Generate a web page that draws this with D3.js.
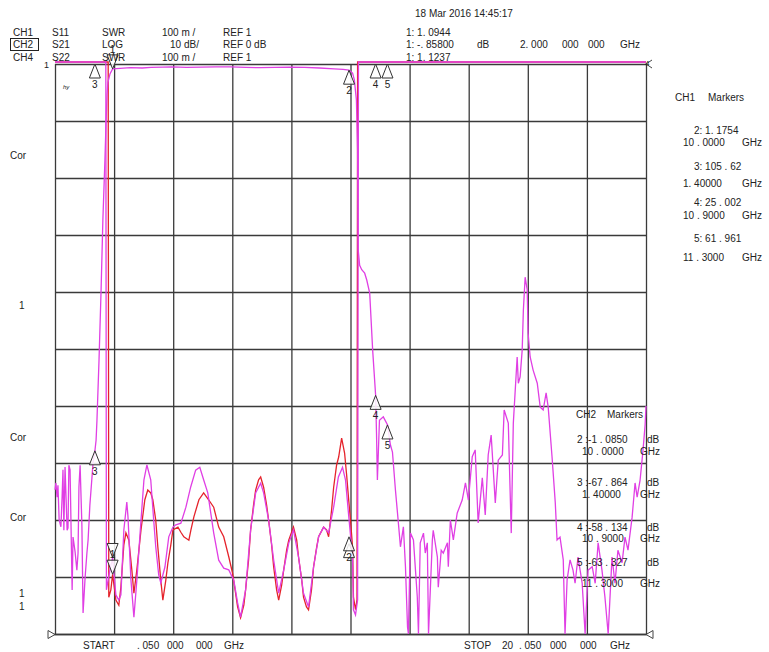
<!DOCTYPE html>
<html><head><meta charset="utf-8">
<script src="https://cdn.jsdelivr.net/npm/d3@7"></script>
<style>
body{margin:0;background:#fff}
text{font-family:"Liberation Sans",Arial,sans-serif;font-size:10px;fill:#222}
</style></head>
<body><svg id="c" width="769" height="652"></svg>
<script>
// ---------- DATA ----------
const freqGrid = [0.05,2.05,4.05,6.05,8.05,10.05,12.05,14.05,16.05,18.05,20.05];
const dbGrid = [0,-10,-20,-30,-40,-50,-60,-70,-80,-90,-100];

// CH2 S21 LOG (GHz, dB)
const s21Trace = [[0.05,-74.7],[0.08,-73.5],[0.12,-76.0],[0.15,-73.9],[0.19,-80.0],[0.25,-81.2],[0.29,-76.0],[0.32,-71.2],[0.35,-81.8],[0.39,-70.7],[0.46,-81.8],[0.49,-81.4],[0.52,-70.4],[0.56,-71.2],[0.63,-92.3],[0.66,-83.0],[0.73,-85.6],[0.79,-88.8],[0.83,-85.8],[0.86,-74.2],[0.90,-70.4],[0.96,-80.9],[1.00,-96.3],[1.07,-90.0],[1.13,-85.8],[1.17,-83.5],[1.23,-77.4],[1.30,-72.6],[1.34,-69.8],[1.40,-67.9],[1.44,-66.0],[1.47,-62.5],[1.54,-51.9],[1.61,-39.6],[1.67,-27.4],[1.74,-16.8],[1.78,-9.8],[1.81,-5.4],[1.84,-3.2],[1.91,-1.75],[2.00,-0.86],[2.25,-0.75],[2.6,-0.65],[3.0,-0.7],[3.3,-0.6],[3.7,-0.55],[4.0,-0.5],[4.5,-0.6],[5.0,-0.55],[5.5,-0.5],[6.0,-0.5],[6.5,-0.6],[7.0,-0.65],[7.5,-0.6],[8.0,-0.55],[8.5,-0.6],[9.0,-0.7],[9.5,-0.85],[9.8,-0.95],[10.0,-1.085],[10.12,-1.6],[10.18,-2.8],[10.25,-6.3],[10.29,-15.1],[10.31,-32.6],[10.36,-35.3],[10.43,-36.1],[10.53,-36.7],[10.6,-37.9],[10.7,-40.2],[10.8,-50.2],[10.9,-58.1],[10.93,-64.7],[10.96,-73.0],[11.03,-62.5],[11.16,-61.9],[11.30,-63.3],[11.40,-66.8],[11.47,-68.1],[11.57,-74.7],[11.67,-80.5],[11.74,-84.7],[11.84,-81.2],[11.91,-88.2],[11.98,-98.8],[12.01,-100],[12.08,-82.3],[12.18,-83.5],[12.31,-93.5],[12.35,-100],[12.41,-84.0],[12.52,-82.3],[12.58,-85.8],[12.65,-84.0],[12.69,-100],[12.82,-83.5],[12.85,-81.8],[12.99,-86.5],[13.02,-91.8],[13.12,-85.3],[13.19,-85.8],[13.33,-84.0],[13.36,-88.2],[13.43,-80.0],[13.53,-83.5],[13.66,-78.8],[13.83,-76.5],[13.94,-73.5],[14.04,-76.5],[14.17,-68.9],[14.27,-67.7],[14.37,-80.5],[14.51,-72.6],[14.61,-79.1],[14.71,-68.6],[14.81,-65.1],[14.95,-77.0],[15.05,-69.5],[15.19,-68.6],[15.25,-60.7],[15.39,-63.0],[15.49,-82.3],[15.56,-63.0],[15.69,-51.4],[15.73,-56.0],[15.79,-54.9],[15.86,-50.2],[15.90,-43.2],[15.96,-37.4],[16.03,-39.6],[16.06,-47.2],[16.13,-51.4],[16.23,-53.7],[16.37,-56.0],[16.47,-60.2],[16.57,-60.7],[16.67,-57.7],[16.74,-60.2],[16.87,-68.9],[16.98,-77.0],[17.04,-83.5],[17.14,-83.0],[17.25,-87.0],[17.31,-100],[17.38,-90.5],[17.48,-87.0],[17.58,-88.8],[17.65,-91.1],[17.75,-86.5],[17.89,-91.1],[17.99,-100],[18.09,-88.8],[18.23,-88.2],[18.33,-91.1],[18.43,-84.0],[18.56,-88.8],[18.66,-93.5],[18.77,-100],[18.90,-86.5],[19.00,-91.1],[19.10,-85.3],[19.24,-87.5],[19.34,-83.0],[19.44,-85.3],[19.58,-79.5],[19.68,-73.5],[19.75,-76.0],[19.85,-73.0],[19.95,-67.7],[20.02,-63.3],[20.05,-60.0]];

// CH1 S11 SWR (GHz, SWR)
const s11Trace = [[0.05,48],[0.5,75],[1.0,92],[1.4,105.62],[1.7,30],[1.85,4.0],[1.87,1.054],[1.94,1.067],[2.0,1.094],[2.11,1.049],[2.21,1.040],[2.28,1.072],[2.38,1.146],[2.45,1.167],[2.55,1.154],[2.65,1.102],[2.72,1.061],[2.82,1.102],[2.96,1.172],[3.09,1.225],[3.19,1.242],[3.29,1.237],[3.36,1.225],[3.46,1.189],[3.53,1.142],[3.63,1.084],[3.70,1.049],[3.80,1.084],[3.87,1.114],[3.97,1.146],[4.04,1.172],[4.21,1.177],[4.31,1.168],[4.41,1.160],[4.58,1.154],[4.65,1.172],[4.75,1.195],[4.92,1.225],[5.08,1.237],[5.25,1.225],[5.42,1.212],[5.59,1.177],[5.76,1.160],[5.93,1.125],[6.06,1.096],[6.17,1.058],[6.23,1.037],[6.33,1.018],[6.44,1.040],[6.50,1.067],[6.60,1.119],[6.67,1.172],[6.77,1.216],[6.84,1.242],[6.94,1.260],[7.01,1.265],[7.11,1.247],[7.21,1.216],[7.28,1.189],[7.38,1.146],[7.45,1.107],[7.55,1.067],[7.62,1.049],[7.72,1.075],[7.79,1.102],[7.89,1.137],[7.96,1.154],[8.12,1.177],[8.23,1.154],[8.29,1.125],[8.40,1.084],[8.46,1.054],[8.56,1.037],[8.63,1.032],[8.73,1.067],[8.80,1.107],[8.90,1.140],[8.97,1.160],[9.14,1.177],[9.24,1.172],[9.31,1.160],[9.41,1.207],[9.48,1.247],[9.58,1.286],[9.65,1.300],[9.75,1.333],[9.85,1.307],[9.92,1.268],[9.98,1.230],[10.05,1.189],[10.12,1.142],[10.15,1.054],[10.22,1.032],[10.27,1.050],[10.29,4.0],[10.5,20],[10.9,25.002],[11.3,61.961],[12,70],[14,55],[16,40],[18,70],[20.05,80]];

// CH4 S22 SWR (GHz, SWR)
const s22Trace = [[0.05,50],[0.6,80],[1.2,95],[1.4,104],[1.77,6],[1.79,1.067],[1.91,1.102],[2.0,1.123],[2.11,1.058],[2.21,1.049],[2.28,1.058],[2.38,1.172],[2.48,1.221],[2.52,1.195],[2.62,1.084],[2.72,1.019],[2.82,1.084],[2.96,1.189],[3.06,1.260],[3.16,1.286],[3.29,1.260],[3.39,1.189],[3.46,1.142],[3.56,1.093],[3.63,1.079],[3.77,1.107],[3.90,1.160],[4.04,1.177],[4.14,1.181],[4.31,1.184],[4.48,1.212],[4.64,1.247],[4.81,1.277],[4.95,1.282],[5.08,1.260],[5.22,1.237],[5.32,1.202],[5.42,1.167],[5.59,1.119],[5.76,1.105],[5.93,1.102],[6.10,1.084],[6.23,1.044],[6.33,1.019],[6.50,1.067],[6.67,1.172],[6.84,1.237],[7.01,1.254],[7.11,1.237],[7.28,1.189],[7.45,1.119],[7.62,1.061],[7.79,1.102],[7.96,1.149],[8.12,1.172],[8.29,1.125],[8.46,1.061],[8.63,1.037],[8.80,1.107],[8.97,1.160],[9.14,1.177],[9.31,1.167],[9.48,1.212],[9.64,1.265],[9.78,1.282],[9.88,1.260],[9.98,1.202],[10.05,1.163],[10.12,1.125],[10.15,1.032],[10.22,1.023],[10.29,1.049],[10.32,8],[10.9,25],[11.3,60],[13,70],[16,50],[20.05,80]];

// markers: [label, GHz, value, direction]
const s21Markers = [["1",2.0,-0.858,"down"],["2",10.0,-1.085,"up"],["3",1.4,-67.864,"up"],["4",10.9,-58.134,"up"],["5",11.3,-63.327,"up"]];
const ch1Markers = [["1",2.0,1.0944,"down"],["2",10.0,1.16,"up"],["3",1.4,105.62,"up"],["4",10.9,25.002,"up"],["5",11.3,61.961,"up"]];
const ch4Markers = [["",2.0,1.1237,"down"],["",10.0,1.148,"up"]];

// text content
const headerRows = [["CH1","S11","SWR","100 m /","REF 1"],["CH2","S21","LOG","10 dB/","REF 0 dB"],["CH4","S22","SWR","100 m /","REF 1"]];
const readoutRows = ["1:  1. 0944","1: -. 85800","1:  1. 1237"];
const ch1Panel = [["2:  1. 1754","10 . 0000"],["3:  105 . 62","1. 40000"],["4:  25 . 002","10 . 9000"],["5:  61 . 961","11 . 3000"]];
const ch2Panel = [["2 :-1  . 0850","10 . 0000"],["3 :-67  . 864","1. 40000"],["4 :-58  . 134","10 . 9000"],["5 :-63  . 327","11 . 3000"]];
const leftLabels = [["Cor",159],["1",309],["Cor",441],["Cor",521],["1",597],["1",610]];

// ---------- DRAW ----------
const svg = d3.select("#c");
const x = d3.scaleLinear().domain([0.05,20.05]).range([55,646]);
const yDb = d3.scaleLinear().domain([0,-100]).range([64,634]).clamp(true);
const ySwr = d3.scaleLinear().domain([1,2]).range([628,58]);
const swrTop = ySwr.invert(62);
const swrMarkTop = ySwr.invert(64);
const PINK = "#e03fe4", RED = "#e5232b", GRID = "#3a3a3a";

// grid via axes
const gx = svg.append("g").attr("transform",`translate(0,${yDb(-100)})`)
  .call(d3.axisBottom(x).tickValues(freqGrid).tickSize(-(yDb(-100)-yDb(0))).tickFormat(""));
gx.select(".domain").remove();
gx.selectAll("line").attr("stroke",GRID).attr("stroke-width",1.3);
const gy = svg.append("g").attr("transform",`translate(${x(0.05)},0)`)
  .call(d3.axisLeft(yDb).tickValues(dbGrid).tickSize(-(x(20.05)-x(0.05))).tickFormat(""));
gy.select(".domain").remove();
gy.selectAll("line").attr("stroke",GRID).attr("stroke-width",1.3);

// extended bottom line with end arrows
const yb = yDb(-100)+0.5;
svg.append("line").attr("x1",x(0.05)-6).attr("x2",x(20.05)+6).attr("y1",yb).attr("y2",yb).attr("stroke",GRID).attr("stroke-width",1.3);
svg.append("path").attr("d",`M${x(0.05)-7},${yb-4} L${x(0.05)},${yb} L${x(0.05)-7},${yb+4} Z`).attr("fill","#fff").attr("stroke","#444");
svg.append("path").attr("d",`M${x(20.05)+7},${yb-4} L${x(20.05)},${yb} L${x(20.05)+7},${yb+4} Z`).attr("fill","#fff").attr("stroke","#444");
// top right reference marker
svg.append("path").attr("d",`M${x(20.05)+6},${yDb(0)-4} L${x(20.05)},${yDb(0)} L${x(20.05)+6},${yDb(0)+4}`).attr("fill","none").attr("stroke","#444");
svg.append("text").attr("x",x(20.05)-1).attr("y",yDb(0)+2).style("font-size","8px").text("4");

// traces
const lineDb = d3.line().x(d=>x(d[0])).y(d=>yDb(d[1]));
const lineSwr = d3.line().x(d=>x(d[0])).y(d=>ySwr(Math.min(d[1],swrTop)));
svg.append("path").datum(s11Trace).attr("d",lineSwr).attr("fill","none").attr("stroke",RED).attr("stroke-width",1.3);
svg.append("path").datum(s22Trace).attr("d",lineSwr).attr("fill","none").attr("stroke",PINK).attr("stroke-width",1.3);
svg.append("path").datum(s21Trace).attr("d",lineDb).attr("fill","none").attr("stroke",PINK).attr("stroke-width",1.3);

// markers
function drawMarkers(list, yf){
  const g = svg.append("g");
  const pts = list.map(m=>({n:m[0],cx:x(m[1]),cy:yf(m[2]),dir:m[3]}));
  pts.filter(p=>p.n).forEach(p=>{
    g.append("text").attr("x",p.cx).attr("y",p.dir==="up"?p.cy+24:p.cy-16)
      .attr("text-anchor","middle").style("font-size","10px").text(p.n);
  });
  pts.forEach(p=>{
    const d = p.dir==="up"
      ? `M${p.cx},${p.cy} L${p.cx-5.5},${p.cy+14} L${p.cx+5.5},${p.cy+14} Z`
      : `M${p.cx},${p.cy} L${p.cx-5.5},${p.cy-14} L${p.cx+5.5},${p.cy-14} Z`;
    g.append("path").attr("d",d).attr("fill","#fff").attr("fill-opacity",0.85).attr("stroke","#333").attr("stroke-width",1);
  });
}
drawMarkers(ch4Markers, v=>ySwr(Math.min(v,swrMarkTop)));
drawMarkers(ch1Markers, v=>ySwr(Math.min(v,swrMarkTop)));
drawMarkers(s21Markers, yDb);

// header
const colX = [13,52,102,162,223];
const rowY = [36,48,61];
headerRows.forEach((r,i)=>r.forEach((t,j)=>{
  let xx = colX[j];
  if(i===1 && j===3) xx = 170;
  svg.append("text").attr("x",xx).attr("y",rowY[i]).text(t);
}));
svg.append("rect").attr("x",10.5).attr("y",38.5).attr("width",28).attr("height",12).attr("fill","none").attr("stroke","#222");
svg.append("text").attr("x",44).attr("y",68).style("font-size","9px").text("1");
svg.append("text").attr("x",63).attr("y",89).style("font-size","6px").style("font-style","italic").text("hy");

// date and readouts
svg.append("text").attr("x",415).attr("y",17).text("18 Mar 2016  14:45:17");
readoutRows.forEach((t,i)=>svg.append("text").attr("x",406).attr("y",rowY[i]).text(t));
svg.append("text").attr("x",477).attr("y",48).text("dB");
svg.append("text").attr("x",520).attr("y",48).text("2. 000");
svg.append("text").attr("x",562).attr("y",48).text("000");
svg.append("text").attr("x",588).attr("y",48).text("000");
svg.append("text").attr("x",620).attr("y",48).text("GHz");

// CH1 marker panel
svg.append("text").attr("x",675).attr("y",101).text("CH1");
svg.append("text").attr("x",708).attr("y",101).text("Markers");
const p1Y = [[134,146],[170,187],[206,219],[242,261]];
ch1Panel.forEach((r,i)=>{
  svg.append("text").attr("x",694).attr("y",p1Y[i][0]).text(r[0]);
  svg.append("text").attr("x",683).attr("y",p1Y[i][1]).text(r[1]);
  svg.append("text").attr("x",742).attr("y",p1Y[i][1]).text("GHz");
});

// CH2 marker panel
svg.append("text").attr("x",576).attr("y",418).text("CH2");
svg.append("text").attr("x",607).attr("y",418).text("Markers");
const p2Y = [[443,455],[486,498],[531,542],[566,587]];
ch2Panel.forEach((r,i)=>{
  svg.append("text").attr("x",577).attr("y",p2Y[i][0]).text(r[0]);
  svg.append("text").attr("x",647).attr("y",p2Y[i][0]).text("dB");
  svg.append("text").attr("x",582).attr("y",p2Y[i][1]).text(r[1]);
  svg.append("text").attr("x",640).attr("y",p2Y[i][1]).text("GHz");
});

// left labels
leftLabels.forEach(l=>svg.append("text").attr("x",l[0]==="1"?19:10).attr("y",l[1]).text(l[0]));

// bottom
[["START",83],[". 050",137],["000",167],["000",196],["GHz",224],["STOP",464],["20",502],[". 050",519],["000",550],["000",580],["GHz",610]]
  .forEach(t=>svg.append("text").attr("x",t[1]).attr("y",649).text(t[0]));
</script></body></html>
